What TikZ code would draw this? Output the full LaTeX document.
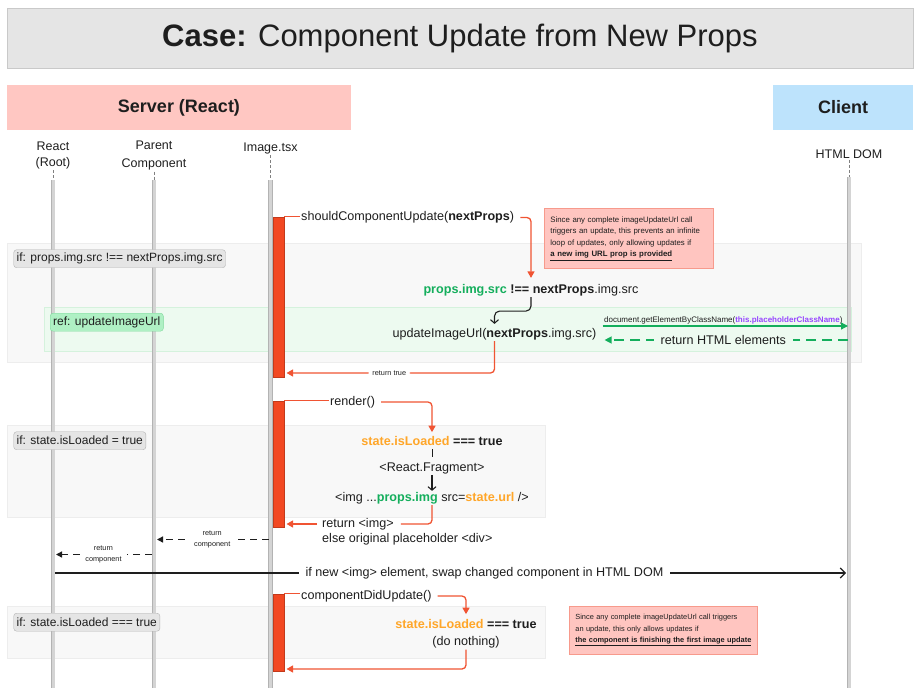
\documentclass[tikz,border=0pt]{standalone}
\usepackage{fontspec}
\setmainfont{Liberation Sans}
\usetikzlibrary{arrows.meta,positioning}

\definecolor{ink}{HTML}{1E1E1E}
\definecolor{titlefill}{HTML}{E5E5E5}
\definecolor{titleedge}{HTML}{C9C9C9}
\definecolor{serverfill}{HTML}{FFC7C2}
\definecolor{clientfill}{HTML}{BDE3FC}
\definecolor{lifefill}{HTML}{D4D4D4}
\definecolor{lifeedge}{HTML}{B3B3B3}
\definecolor{groupfill}{HTML}{F8F8F8}
\definecolor{groupedge}{HTML}{EDEDED}
\definecolor{reffill}{HTML}{EDFAF0}
\definecolor{refedge}{HTML}{D5F2DD}
\definecolor{reftagfill}{HTML}{AFF0C4}
\definecolor{reftagedge}{HTML}{7ED99C}
\definecolor{tagfill}{HTML}{E5E5E5}
\definecolor{tagedge}{HTML}{B3B3B3}
\definecolor{notefill}{HTML}{FFC5C0}
\definecolor{noteedge}{HTML}{F79A8C}
\definecolor{barfill}{HTML}{F24822}
\definecolor{redarrow}{HTML}{F05433}
\definecolor{grnarrow}{HTML}{14AE5C}
\definecolor{grntext}{HTML}{14AE5C}
\definecolor{orgtext}{HTML}{FFA629}
\definecolor{purptext}{HTML}{9747FF}

\begin{document}
\begin{tikzpicture}[x=1pt,y=-1pt,color=ink,
  head/.style={font=\fontsize{12.5}{15.5}\selectfont,align=center,inner sep=1pt},
  stub/.style={densely dashed,draw=gray,line width=0.6pt},
  life/.style={draw=lifeedge,double=lifefill,double distance=3pt,line width=0.7pt},
  bar/.style={draw=barfill!80!black,fill=barfill,line width=0.5pt,minimum width=11pt,inner sep=0pt},
  group/.style={draw=groupedge,fill=groupfill,line width=0.7pt},
  tag/.style={draw=tagedge,fill=tagfill,rounded corners=3pt,anchor=north west,inner xsep=3pt,minimum height=18pt,font=\fontsize{12}{14}\selectfont},
  note/.style={draw=noteedge,fill=notefill,line width=0.8pt,anchor=north west,align=left,inner xsep=6pt,inner ysep=8pt,font=\fontsize{7.8}{11.6}\selectfont},
  msg/.style={font=\fontsize{12.6}{15}\selectfont,inner sep=1pt},
  wee/.style={font=\fontsize{7.3}{11}\selectfont,inner sep=1pt,align=center},
  redarr/.style={draw=redarrow,line width=1.3pt,rounded corners=4pt,-{Triangle[length=6.5pt,width=7pt]}},
  redline/.style={draw=redarrow,line width=1.3pt,rounded corners=4pt},
  blkarr/.style={draw=ink,line width=1.1pt,rounded corners=5pt,-{Straight Barb[length=3.5pt,width=8pt]}},
  blkdash/.style={draw=ink,line width=1.3pt,dash pattern=on 7pt off 5pt,-{Triangle[length=6pt,width=6pt]}},
  grnarr/.style={draw=grnarrow,line width=1.3pt,-{Triangle[length=7pt,width=7pt]}},
  grndash/.style={draw=grnarrow,line width=1.3pt,dash pattern=on 10pt off 6pt,-{Triangle[length=7pt,width=7pt]}}]

  \useasboundingbox (0,0) rectangle (922,688);

  % Header
  \node[fill=titlefill,draw=titleedge,line width=0.8pt,minimum width=906pt,minimum height=60pt,
    font=\fontsize{31}{36}\selectfont] (title) at (460,38) {\textbf{Case:} Component Update from New Props};
  \node[fill=serverfill,minimum width=344pt,minimum height=45pt,font=\bfseries\fontsize{18}{20}\selectfont]
    (server) at (179,107.5) {Server (React)};
  \node[fill=clientfill,minimum width=140pt,minimum height=45pt,font=\bfseries\fontsize{18}{20}\selectfont]
    (client) at (843,107.5) {Client};

  % Fragments
  \draw[group] (7,243) rectangle (861,362);
  \draw[group,draw=refedge,fill=reffill] (44,307) rectangle (851,351);
  \draw[group] (7,425) rectangle (545,517);
  \draw[group] (7,606) rectangle (545,658);

  % Lifelines
  \node[head] (root) at (53,155.5) {React\\(Root)};
  \node[head] (parent) at (154,155.5) {Parent\\[3pt]Component};
  \node[head] (image) at (270.5,148.3) {Image.tsx};
  \node[head] (dom) at (849,154) {HTML DOM};
  \coordinate (llend) at (0,688);
  \foreach \who/\top in {root/180,parent/180,image/180,dom/177}{
    \coordinate (lltop) at (0,\top);
    \draw[stub] (\who.south) -- (\who.south |- lltop);
    \draw[life] (\who.south |- lltop) -- (\who.south |- llend);
  }

  % Activations
  \node[bar,minimum height=160pt] (bar1) at (278.3,297) {};
  \node[bar,minimum height=126pt] (bar2) at (278.3,464) {};
  \node[bar,minimum height=77pt] (bar3) at (278.3,632.5) {};

  \node[tag] (if1) at (13.5,249.5) {if: props.img.src !== nextProps.img.src};
  \node[tag,draw=reftagedge,fill=reftagfill] (ref) at (50,313) {ref: updateImageUrl};
  \node[tag] (if2) at (13.5,431.5) {if: state.isLoaded = true};
  \node[tag] (if3) at (13.5,613) {if: state.isLoaded === true};

  % Notes
  \node[note,text width=157pt] (note1) at (544,208) {Since any complete imageUpdateUrl call\\
    triggers an update, this prevents an infinite\\loop of updates, only allowing updates if\\
    \underline{\textbf{a new img URL prop is provided}}};
  \node[note,text width=176pt,font=\fontsize{7.4}{11.4}\selectfont] (note2) at (569,606)
    {Since any complete imageUpdateUrl call triggers\\
    an update, this only allows updates if\\\underline{\textbf{the component is finishing the first image update}}};

  % shouldComponentUpdate
  \node[msg,anchor=west] (scu) at (300,217.5) {shouldComponentUpdate(\textbf{nextProps})};
  \node[msg] (cmp) at (531,290) {\textcolor{grntext}{\textbf{props.img.src}} \textbf{!==} \textbf{nextProps}.img.src};
  \node[msg] (upd) at (494.5,334) {updateImageUrl(\textbf{nextProps}.img.src)};
  \draw[redline] (bar1.north east) -- (bar1.north east -| scu.west);
  \draw[redarr,shorten <=5pt,shorten >=5pt] (scu.east) -| (cmp.north);
  \draw[blkarr,shorten >=3pt] (cmp.south) -- ++(0,14) -| (upd.north);

  \coordinate (dom1) at (849,326);
  \coordinate (dom2) at (849,340);
  \draw[grnarr,shorten <=5pt,shorten >=1pt] (upd.east |- dom1) -- (dom1)
    node[midway,above=1pt,inner sep=0pt,font=\fontsize{8}{10}\selectfont]
    {document.getElementByClassName(\textcolor{purptext}{\textbf{this.placeholderClassName}})};
  \draw[grndash,shorten <=1pt,shorten >=7pt] (dom2) -- (upd.east |- dom2)
    node[midway,msg,fill=reffill,inner xsep=7pt] {return HTML elements};

  \coordinate (rt) at (0,373);
  \draw[redarr,shorten >=2.5pt] (upd.south) |- (bar1.east |- rt)
    node[pos=0.75,wee,fill=white,inner xsep=4pt] {return true};

  % render
  \node[msg,anchor=west] (rnd) at (329,402) {render()};
  \node[msg] (chk) at (432,441) {\textcolor{orgtext}{\textbf{state.isLoaded}} \textbf{=== true}};
  \node[msg] (frag) at (432,468) {<React.Fragment>};
  \node[msg] (imgt) at (432,498) {<img ...\textcolor{grntext}{\textbf{props.img}} src=\textcolor{orgtext}{\textbf{state.url}} />};
  \node[msg,anchor=west] (ret) at (321,524) {return <img>};
  \node[msg,anchor=west] (els) at (321,539) {else original placeholder <div>};
  \draw[redline] (bar2.north east) -- (bar2.north east -| rnd.west);
  \draw[redarr,shorten <=5pt,shorten >=3pt] (rnd.east) -| (chk.north);
  \draw[line width=1pt,shorten <=2pt,shorten >=4pt] (chk.south) -- (frag.north);
  \draw[blkarr] (frag.south) -- (frag.south |- imgt.north);
  \draw[redline,shorten >=6pt] (imgt.south) |- (ret.east);
  \draw[redarr,shorten <=4pt,shorten >=2.5pt] (ret.west) -- (ret.west -| bar2.east);

  % returns
  \coordinate (rc1) at (0,539.5);
  \coordinate (rc2) at (0,554.5);
  \coordinate (swap) at (0,573);
  \draw[blkdash,shorten <=2pt,shorten >=3pt] (image |- rc1) -- (parent |- rc1)
    node[midway,wee,fill=white,inner xsep=5pt] {return\\component};
  \draw[blkdash,shorten <=2pt,shorten >=3pt] (parent |- rc2) -- (root |- rc2)
    node[midway,wee,fill=white,inner xsep=5pt] {return\\component};
  \draw[draw=ink,line width=1.1pt,-{Straight Barb[length=5pt,width=10pt]},shorten <=2pt,shorten >=3pt]
    (root |- swap) -- (dom |- swap)
    node[pos=0.542,msg,fill=white,inner xsep=7pt] {if new <img> element, swap changed component in HTML DOM};

  % componentDidUpdate
  \node[msg,anchor=west] (cdu) at (300,596) {componentDidUpdate()};
  \node[msg] (chk2) at (466,624) {\textcolor{orgtext}{\textbf{state.isLoaded}} \textbf{=== true}};
  \node[msg] (noop) at (466,642.5) {(do nothing)};
  \coordinate (done) at (0,669);
  \draw[redline] (bar3.north east) -- (bar3.north east -| cdu.west);
  \draw[redarr,shorten <=5pt,shorten >=4pt] (cdu.east) -| (chk2.north);
  \draw[redarr,shorten >=2.5pt] (noop.south) |- (bar3.east |- done);

\end{tikzpicture}
\end{document}
